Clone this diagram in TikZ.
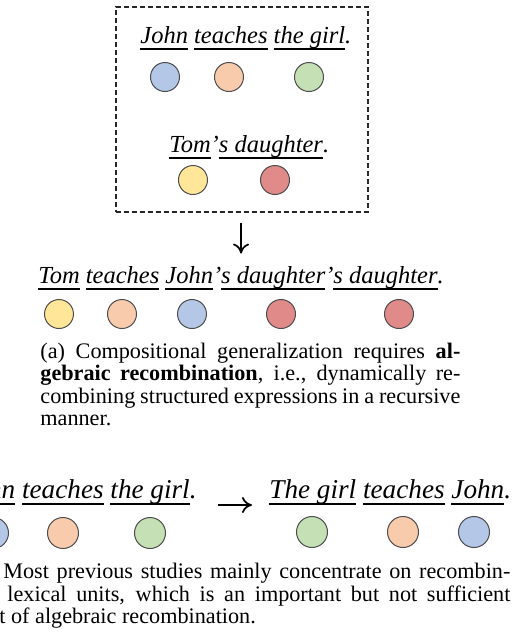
\documentclass[tikz,border=0pt]{standalone}
\usepackage{fontspec}
\setmainfont{Liberation Serif}
\usetikzlibrary{arrows.meta,fit}

\definecolor{tokblue}{RGB}{180,199,231}
\definecolor{tokorange}{RGB}{248,203,173}
\definecolor{tokgreen}{RGB}{197,224,180}
\definecolor{tokyellow}{RGB}{255,230,153}
\definecolor{tokred}{RGB}{224,138,138}

\newsavebox\uwbox
\newcommand{\uw}[1]{\sbox\uwbox{#1}\rlap{\rule[-0.27em]{\wd\uwbox}{0.08em}}\usebox\uwbox}

\tikzset{
  tok/.style={circle,draw=black!70,line width=0.5pt,minimum size=14.5pt,inner sep=0pt},
  tokb/.style={tok,minimum size=15.5pt},
  sent/.style={inner sep=0pt,font=\fontsize{12.25}{14}\selectfont\itshape},
  sentb/.style={inner sep=0pt,font=\fontsize{13.6}{16}\selectfont\itshape},
  capt/.style={inner sep=0pt,font=\fontsize{11.1}{11.25}\selectfont},
  flow/.style={-{To[length=5pt,width=8pt]},line width=0.85pt},
  ctxbox/.style={draw=black!85,line width=0.6pt,dash pattern=on 2.5pt off 1.5pt,inner sep=0pt}
}

\begin{document}
\begin{tikzpicture}[x=0.5pt,y=-0.5pt]
  \useasboundingbox (0,0) rectangle (516,639);
  \clip (0,0) rectangle (516,639);

  % Context box
  \node[ctxbox,fit={(116,7) (368,212)}] (ctx) {};
  \node[sent,anchor=base west] (src) at (140,43) {\uw{John} \uw{teaches} \uw{the girl}.};
  \node[tok,fill=tokblue] (john) at (165,77) {};
  \node[tok,fill=tokorange] (teach) at (229,77) {};
  \node[tok,fill=tokgreen] (girl) at (309,77) {};
  \node[sent,anchor=base west] (aux) at (169,152) {\uw{Tom}'\uw{s daughter}.};
  \node[tok,fill=tokyellow] (tom) at (193,180) {};
  \node[tok,fill=tokred] (dau) at (275,180) {};

  % Recombined sentence
  \node[sent,anchor=base west] (tgt) at (38,283) {\uw{Tom} \uw{teaches} \uw{John}'\uw{s daughter}'\uw{s daughter}.};
  \node[tok,fill=tokyellow] (tomA) at (59,314) {};
  \node[tok,fill=tokorange] (teachA) at (122,314) {};
  \node[tok,fill=tokblue] (johnA) at (192,314) {};
  \node[tok,fill=tokred] (dauA) at (281,314) {};
  \node[tok,fill=tokred] (dauB) at (399,314) {};
  \draw[flow,shorten <=5pt,shorten >=6pt] (tgt.north |- ctx.south) -- (tgt.north);

  % Caption (a)
  \node[capt,anchor=base west,text width=210pt,align=justify] (capa) at (40,358)
    {(a) Compositional generalization requires \textbf{al-}\linebreak\textbf{gebraic recombination}, i.e., dynamically re-\linebreak combining structured expressions in a recursive\linebreak manner.};

  % Lexical swap
  \node[sentb,anchor=base east] (oldb) at (197,498) {\uw{John} \uw{teaches} \uw{the girl}.};
  \node[sentb,anchor=base west] (newb) at (269,498) {\uw{The girl} \uw{teaches} \uw{John}.};
  \node[tokb,fill=tokblue] (johnL) at (-7,533) {};
  \node[tokb,fill=tokorange] (teachL) at (63,533) {};
  \node[tokb,fill=tokgreen] (girlL) at (150,533) {};
  \node[tokb,fill=tokgreen] (girlR) at (312,532) {};
  \node[tokb,fill=tokorange] (teachR) at (403,532) {};
  \node[tokb,fill=tokblue] (johnR) at (474,532) {};
  \draw[flow,shorten <=10.5pt,shorten >=8.5pt] ([yshift=-3.5pt]oldb.base east) -- ([yshift=-3.5pt]newb.base west);

  % Caption (b)
  \node[capt,anchor=base west] (capb1) at (3,578) {\makebox[253.5pt][s]{Most previous studies mainly concentrate on recombin-}};
  \node[capt,anchor=base west] (capb2) at (7,601) {\makebox[251.5pt][s]{lexical units, which is an important but not sufficient}};
  \node[capt,anchor=base west] (capb3) at (-1,623) {t of algebraic recombination.};
\end{tikzpicture}
\end{document}
